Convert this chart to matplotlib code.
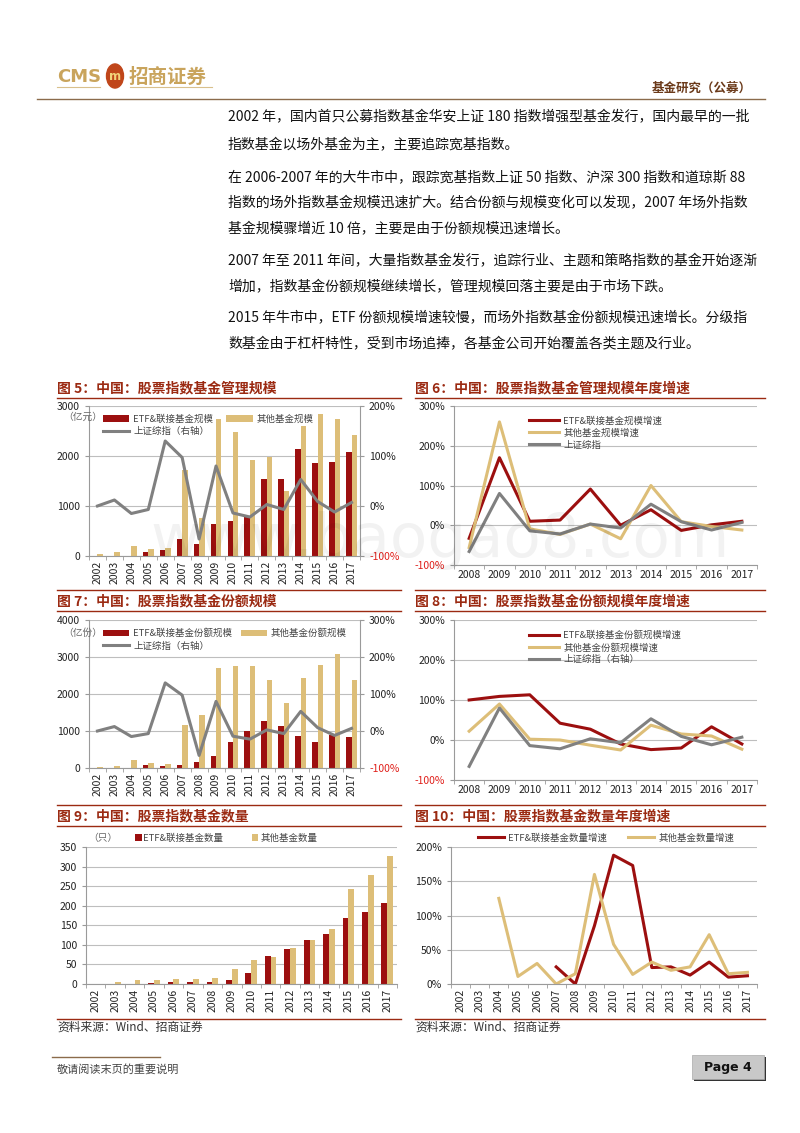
import numpy as np
import matplotlib
matplotlib.use('Agg')
import matplotlib.pyplot as plt
from matplotlib.patches import Rectangle, Circle
from matplotlib.lines import Line2D

plt.rcParams['font.family'] = ['Noto Sans CJK SC', 'DejaVu Sans']

RED = '#9C0F0F'
TAN = '#DDBE78'
GRAY = '#808080'
TITLE = '#9B2A12'
GRID = '#BEBEBE'
AXC = '#9A9A9A'

# ---- data ----
years = [str(y) for y in range(2002, 2018)]
years_g = [str(y) for y in range(2008, 2018)]

etf_aum = [0, 0, 0, 70, 115, 340, 235, 635, 705, 780, 1535, 1535, 2140, 1855, 1880, 2080]
oth_aum = [30, 70, 200, 130, 165, 1715, 760, 2735, 2480, 1915, 1975, 1295, 2595, 2840, 2745, 2415]
sse = [0, 12, -15, -7, 130, 97, -66, 80, -14, -22, 3, -7, 53, 9, -12, 7]

etf_aum_g = [-33, 170, 10, 13, 91, 0, 39, -13, 1, 10]
oth_aum_g = [-56, 260, -9, -23, 3, -34, 100, 9, -3, -12]
sse_g = [-66, 80, -14, -22, 3, -7, 53, 9, -12, 7]

etf_shr = [0, 0, 0, 80, 65, 80, 160, 335, 700, 1000, 1260, 1145, 875, 695, 890, 840]
oth_shr = [35, 65, 205, 145, 115, 1170, 1430, 2710, 2765, 2755, 2385, 1765, 2420, 2780, 3070, 2380]

etf_shr_g = [100, 109, 113, 42, 27, -10, -24, -20, 33, -10]
oth_shr_g = [22, 90, 2, 0, -13, -25, 37, 15, 10, -23]

etf_cnt = [0, 0, 0, 3, 5, 6, 6, 10, 27, 72, 89, 112, 127, 168, 184, 207]
oth_cnt = [1, 4, 9, 10, 13, 13, 15, 38, 61, 70, 93, 112, 141, 243, 279, 326]

etf_cnt_g = [np.nan] * 5 + [25, 0, 85, 188, 173, 24, 25, 13, 32, 10, 12]
oth_cnt_g = [np.nan] * 2 + [125, 11, 30, 0, 15, 160, 58, 14, 32, 20, 25, 72, 15, 17]

W, H = 800, 1133
fig = plt.figure(figsize=(8, 11.33), dpi=100)


def rect(l, t, r, b):
    return [l / W, 1 - b / H, (r - l) / W, (b - t) / H]


def ftext(x, y, s, **kw):
    fig.text(x / W, 1 - y / H, s, **kw)


def hline(x0, x1, y, color, lw=1.0):
    fig.add_artist(Line2D([x0 / W, x1 / W], [1 - y / H, 1 - y / H], color=color, lw=lw))


def style(ax):
    for s in ['top', 'right']:
        ax.spines[s].set_visible(False)
    ax.spines['left'].set_color(AXC)
    ax.spines['bottom'].set_color(AXC)
    ax.grid(axis='y', color=GRID, lw=0.8)
    ax.set_axisbelow(True)
    ax.tick_params(axis='y', labelsize=7.5, colors='#222222', length=3, color=AXC)
    ax.tick_params(axis='x', which='major', labelsize=7.5, colors='#222222', length=0)
    ax.tick_params(axis='x', which='minor', length=3, color=AXC)


def cat_x(ax, labels, rot):
    n = len(labels)
    ax.set_xlim(-0.5, n - 0.5)
    ax.set_xticks(np.arange(n))
    ax.set_xticklabels(labels, rotation=rot)
    ax.set_xticks(np.arange(n + 1) - 0.5, minor=True)


def pct_labels(ax, ticks):
    ax.set_yticks(ticks)
    ax.set_yticklabels([f'{int(t)}%' for t in ticks])
    for lab, t in zip(ax.get_yticklabels(), ticks):
        if t < 0:
            lab.set_color('#E0201B')


def right_axis(ax2, ticks):
    ax2.set_ylim(ticks[0], ticks[-1])
    pct_labels(ax2, ticks)
    for s in ['top', 'left', 'bottom']:
        ax2.spines[s].set_visible(False)
    ax2.spines['right'].set_color(AXC)
    ax2.tick_params(axis='y', labelsize=7.5, colors='#222222', length=3, color=AXC)
    for lab, t in zip(ax2.get_yticklabels(), ticks):
        if t < 0:
            lab.set_color('#E0201B')


# ---- header ----
ftext(57, 77, 'CMS', fontsize=13, color='#C9A45C', fontweight='bold', va='center', family=['DejaVu Sans'])
fig.add_artist(Circle((115 / W, 1 - 76 / H), 8.5 / W, transform=fig.transFigure, color='#C0461A'))
ftext(115, 76, 'm', fontsize=8.5, color='#F2D27A', fontweight='bold', ha='center', va='center', family=['DejaVu Sans'])
ftext(129, 77, '招商证券', fontsize=14, color='#C9A45C', fontweight='bold', va='center')
hline(57, 100, 87, '#D9C08C', 0.8)
hline(130, 212, 87, '#D9C08C', 0.8)
ftext(752, 88, '基金研究（公募）', fontsize=9, color='#6B3A1A', fontweight='bold', ha='right', va='center')
hline(37, 765, 99, '#8B6B4B', 1.0)

# ---- body text ----
lines = [
    (117, '2002 年，国内首只公募指数基金华安上证 180 指数增强型基金发行，国内最早的一批'),
    (145, '指数基金以场外基金为主，主要追踪宽基指数。'),
    (177, '在 2006-2007 年的大牛市中，跟踪宽基指数上证 50 指数、沪深 300 指数和道琼斯 88'),
    (203, '指数的场外指数基金规模迅速扩大。结合份额与规模变化可以发现，2007 年场外指数'),
    (229, '基金规模骤增近 10 倍，主要是由于份额规模迅速增长。'),
    (261, '2007 年至 2011 年间，大量指数基金发行，追踪行业、主题和策略指数的基金开始逐渐'),
    (287, '增加，指数基金份额规模继续增长，管理规模回落主要是由于市场下跌。'),
    (318, '2015 年牛市中，ETF 份额规模增速较慢，而场外指数基金份额规模迅速增长。分级指'),
    (344, '数基金由于杠杆特性，受到市场追捧，各基金公司开始覆盖各类主题及行业。'),
]
for y, s in lines:
    ftext(228, y, s, fontsize=10.0, color='#111111', va='center')

# ---- titles and separators ----
for x0, x1, y, s in [(57, 401, 388, '图 5：中国：股票指数基金管理规模'),
                     (415, 765, 388, '图 6：中国：股票指数基金管理规模年度增速'),
                     (57, 401, 601, '图 7：中国：股票指数基金份额规模'),
                     (415, 765, 601, '图 8：中国：股票指数基金份额规模年度增速'),
                     (57, 401, 816, '图 9：中国：股票指数基金数量'),
                     (415, 765, 816, '图 10：中国：股票指数基金数量年度增速')]:
    ftext(x0, y, s, fontsize=10, color=TITLE, fontweight='bold', va='center')
    hline(x0, x1, y + 10, TITLE, 1.0)
    if y > 400:
        hline(x0, x1, y - 11, TITLE, 1.0)

x16 = np.arange(16)
x10 = np.arange(10)
leg_kw = dict(frameon=False, fontsize=6.8, labelcolor='#444444')

# ---- chart 5 ----
ax = fig.add_axes(rect(89, 406, 360, 556))
style(ax)
b1 = ax.bar(x16 - 0.16, etf_aum, 0.32, color=RED)
b2 = ax.bar(x16 + 0.16, oth_aum, 0.32, color=TAN)
ax.set_ylim(0, 3000)
ax.set_yticks([0, 1000, 2000, 3000])
cat_x(ax, years, 90)
ax2 = ax.twinx()
l1, = ax2.plot(x16, sse, color=GRAY, lw=2.2)
right_axis(ax2, [-100, 0, 100, 200])
ax2.legend([b1, l1, b2], ['ETF&联接基金规模', '上证综指（右轴）', '其他基金规模'], ncol=2,
           loc='upper left', bbox_to_anchor=(0.02, 1.0), handlelength=2.8, handletextpad=0.4,
           columnspacing=1.4, labelspacing=0.35, **leg_kw)
ftext(63, 417, '（亿元）', fontsize=7, color='#666666', va='center')

# ---- chart 6 ----
ax = fig.add_axes(rect(454, 406, 757, 565))
style(ax)
ax.plot(x10, etf_aum_g, color=RED, lw=2.2, label='ETF&联接基金规模增速')
ax.plot(x10, oth_aum_g, color=TAN, lw=2.2, label='其他基金规模增速')
ax.plot(x10, sse_g, color=GRAY, lw=2.2, label='上证综指')
ax.set_ylim(-100, 300)
pct_labels(ax, [-100, 0, 100, 200, 300])
cat_x(ax, years_g, 0)
ax.legend(loc='upper left', bbox_to_anchor=(0.22, 0.99), handlelength=3.2, handletextpad=0.4,
          labelspacing=0.3, **leg_kw)

# ---- chart 7 ----
ax = fig.add_axes(rect(89, 620, 360, 768))
style(ax)
b1 = ax.bar(x16 - 0.16, etf_shr, 0.32, color=RED)
b2 = ax.bar(x16 + 0.16, oth_shr, 0.32, color=TAN)
ax.set_ylim(0, 4000)
ax.set_yticks([0, 1000, 2000, 3000, 4000])
cat_x(ax, years, 90)
ax2 = ax.twinx()
l1, = ax2.plot(x16, sse, color=GRAY, lw=2.2)
right_axis(ax2, [-100, 0, 100, 200, 300])
ax2.legend([b1, l1, b2], ['ETF&联接基金份额规模', '上证综指（右轴）', '其他基金份额规模'], ncol=2,
           loc='upper left', bbox_to_anchor=(0.02, 1.0), handlelength=2.8, handletextpad=0.4,
           columnspacing=0.9, labelspacing=0.35, **leg_kw)
ftext(63, 633, '（亿份）', fontsize=7, color='#666666', va='center')

# ---- chart 8 ----
ax = fig.add_axes(rect(454, 620, 757, 780))
style(ax)
ax.plot(x10, etf_shr_g, color=RED, lw=2.2, label='ETF&联接基金份额规模增速')
ax.plot(x10, oth_shr_g, color=TAN, lw=2.2, label='其他基金份额规模增速')
ax.plot(x10, sse_g, color=GRAY, lw=2.2, label='上证综指（右轴）')
ax.set_ylim(-100, 300)
pct_labels(ax, [-100, 0, 100, 200, 300])
cat_x(ax, years_g, 0)
ax.legend(loc='upper left', bbox_to_anchor=(0.22, 0.99), handlelength=3.2, handletextpad=0.4,
          labelspacing=0.3, **leg_kw)

# ---- chart 9 ----
ax = fig.add_axes(rect(86, 847, 397, 984))
style(ax)
b1 = ax.bar(x16 - 0.15, etf_cnt, 0.3, color=RED)
b2 = ax.bar(x16 + 0.15, oth_cnt, 0.3, color=TAN)
ax.set_ylim(0, 350)
ax.set_yticks(np.arange(0, 351, 50))
cat_x(ax, years, 90)
ax.legend([b1, b2], ['ETF&联接基金数量', '其他基金数量'], ncol=2, loc='lower left',
          bbox_to_anchor=(0.13, 0.97), handlelength=0.7, handleheight=0.7, handletextpad=0.2,
          columnspacing=3.0, **leg_kw)
ftext(88, 838, '（只）', fontsize=7, color='#666666', va='center')

# ---- chart 10 ----
ax = fig.add_axes(rect(451, 847, 757, 984))
style(ax)
ax.plot(x16, etf_cnt_g, color=RED, lw=2.2, label='ETF&联接基金数量增速')
ax.plot(x16, oth_cnt_g, color=TAN, lw=2.2, label='其他基金数量增速')
ax.set_ylim(0, 200)
pct_labels(ax, [0, 50, 100, 150, 200])
cat_x(ax, years, 90)
ax.legend(ncol=2, loc='lower left', bbox_to_anchor=(0.06, 0.97), handlelength=2.8,
          handletextpad=0.4, columnspacing=2.2, **leg_kw)

# ---- sources and bottom lines ----
hline(57, 401, 1019, TITLE, 1.0)
hline(415, 765, 1019, TITLE, 1.0)
ftext(57, 1027, '资料来源：Wind、招商证券', fontsize=8.5, color='#333333', va='center')
ftext(415, 1027, '资料来源：Wind、招商证券', fontsize=8.5, color='#333333', va='center')

# ---- watermark ----
ftext(440, 540, 'www.baogao8.com', fontsize=44, color='#000000', alpha=0.05, ha='center', va='center',
      family=['DejaVu Sans'])

# ---- footer ----
hline(52, 160, 1057, '#8B6B4B', 1.0)
ftext(57, 1069, '敬请阅读末页的重要说明', fontsize=8, color='#444444', va='center')
fig.add_artist(Rectangle((694 / W, 1 - 1081 / H), 72 / W, 24 / H, transform=fig.transFigure,
                         facecolor='#333333', edgecolor='none'))
fig.add_artist(Rectangle((692 / W, 1 - 1079 / H), 72 / W, 24 / H, transform=fig.transFigure,
                         facecolor='#C8C8C8', edgecolor='#AAAAAA', lw=0.5))
ftext(728, 1067, 'Page 4', fontsize=9, color='#111111', fontweight='bold', ha='center', va='center',
      family=['DejaVu Sans'])

fig.savefig('out.png', dpi=100)
